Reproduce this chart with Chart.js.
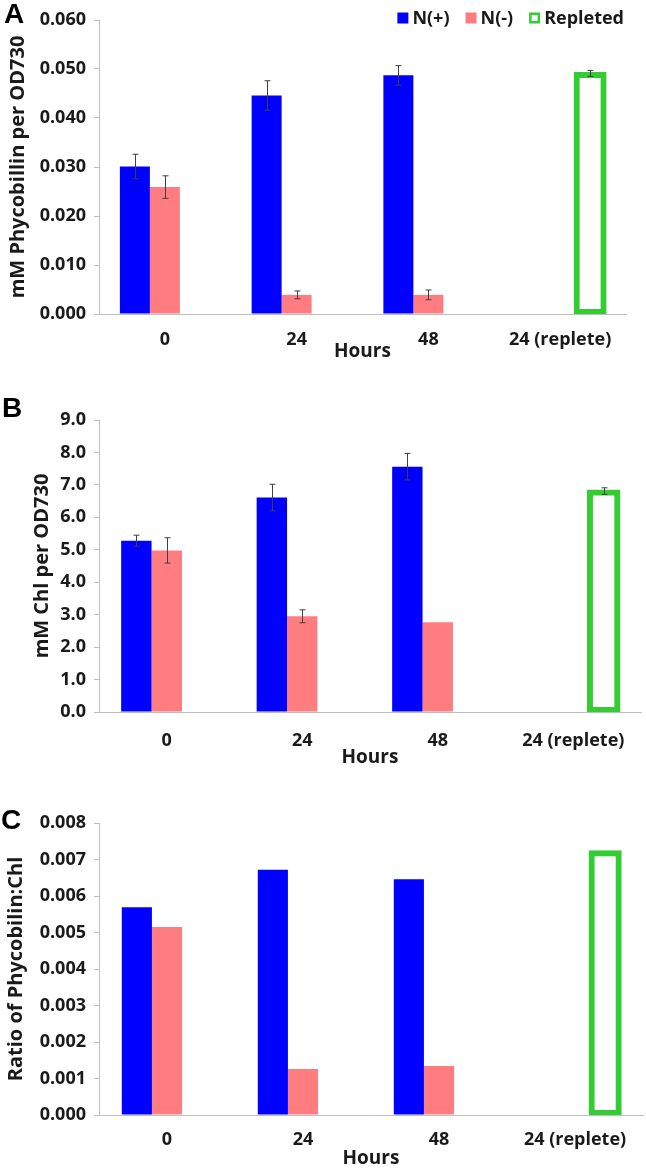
<!DOCTYPE html>
<html>
<head>
<meta charset="utf-8">
<script src="https://cdn.jsdelivr.net/npm/chart.js@4.4.0/dist/chart.umd.min.js"></script>
<style>
  body { margin: 0; background: #fff; }
  #wrap { position: relative; width: 646px; height: 1168px; overflow: hidden; }
  canvas { position: absolute; left: 0; }
  .panel { position: absolute; font: bold 28px "Liberation Sans", Arial, sans-serif; line-height: 1; color: #000; }
</style>
</head>
<body>
<div id="wrap">
  <canvas id="chartA" width="646" height="370" style="top:0"></canvas>
  <canvas id="chartB" width="646" height="400" style="top:370px"></canvas>
  <canvas id="chartC" width="646" height="398" style="top:770px"></canvas>
  <div class="panel" style="left:4px;top:0">A</div>
  <div class="panel" style="left:2px;top:394px">B</div>
  <div class="panel" style="left:1px;top:806px">C</div>
</div>
<script>
const categories = ["0", "24", "48", "24 (replete)"];
const seriesNames = ["N(+)", "N(-)", "Repleted"];

// A: phycobilin
const phycoPlus = [0.0301, 0.0446, 0.0487, null];
const phycoMinus = [0.0259, 0.0039, 0.0039, null];
const phycoRepleted = [null, null, null, 0.0491];
const phycoPlusErr = [0.0025, 0.0030, 0.0020, null];
const phycoMinusErr = [0.0023, 0.0008, 0.0010, null];
const phycoRepletedErr = [null, null, null, 0.0006];

// B: chlorophyll
const chlPlus = [5.28, 6.61, 7.56, null];
const chlMinus = [4.98, 2.95, 2.77, null];
const chlRepleted = [null, null, null, 6.81];
const chlPlusErr = [0.17, 0.41, 0.41, null];
const chlMinusErr = [0.39, 0.20, 0, null];
const chlRepletedErr = [null, null, null, 0.10];

// C: ratio
const ratioPlus = [0.00569, 0.00672, 0.00646, null];
const ratioMinus = [0.00515, 0.00126, 0.00134, null];
const ratioRepleted = [null, null, null, 0.00721];

const BLUE = "#0000ff";
const PINK = "#ff7c80";
const GREEN = "#33cc33";
const AXIS = "#bfbfbf";

Chart.defaults.font.family = '"Open Sans", sans-serif';
Chart.defaults.color = "#1a1a1a";

const errorBars = {
  id: "errorBars",
  afterDatasetsDraw(chart) {
    const ctx = chart.ctx;
    const y = chart.scales.y;
    ctx.save();
    ctx.strokeStyle = "#404040";
    ctx.lineWidth = 1;
    chart.data.datasets.forEach((ds, i) => {
      if (!ds.errors) return;
      const meta = chart.getDatasetMeta(i);
      ds.errors.forEach((e, j) => {
        if (!e || ds.data[j] == null) return;
        const x = Math.round(meta.data[j].x) + 0.5;
        const top = y.getPixelForValue(ds.data[j] + e);
        const bot = y.getPixelForValue(ds.data[j] - e);
        ctx.beginPath();
        ctx.moveTo(x, top); ctx.lineTo(x, bot);
        ctx.moveTo(x - 3, top); ctx.lineTo(x + 3, top);
        ctx.moveTo(x - 3, bot); ctx.lineTo(x + 3, bot);
        ctx.stroke();
      });
    });
    ctx.restore();
  }
};

const topLegend = {
  id: "topLegend",
  afterDraw(chart, args, opts) {
    if (!opts.show) return;
    const ctx = chart.ctx;
    ctx.save();
    ctx.font = 'bold 18px "Open Sans", sans-serif';
    ctx.textBaseline = "middle";
    const box = 11, gapText = 4, gapItem = 16;
    const items = chart.data.datasets.map(ds => ({
      label: ds.label,
      w: ctx.measureText(ds.label).width,
      ds
    }));
    let total = 0;
    items.forEach((it, k) => { total += box + gapText + it.w + (k ? gapItem : 0); });
    let x = opts.right - total;
    const cy = opts.y;
    items.forEach(it => {
      if (it.ds.backgroundColor === "transparent") {
        ctx.strokeStyle = it.ds.borderColor;
        ctx.lineWidth = 2.5;
        ctx.strokeRect(x + 1.25, cy - box / 2 + 1.25, box - 2.5, box - 2.5);
      } else {
        ctx.fillStyle = it.ds.backgroundColor;
        ctx.fillRect(x, cy - box / 2, box, box);
      }
      ctx.fillStyle = "#1a1a1a";
      ctx.fillText(it.label, x + box + gapText, cy + 1);
      x += box + gapText + it.w + gapItem;
    });
    ctx.restore();
  }
};

function makeChart(id, cfg) {
  const datasets = [
    { label: seriesNames[0], data: cfg.plus, errors: cfg.plusErr, backgroundColor: BLUE, borderWidth: 0 },
    { label: seriesNames[1], data: cfg.minus, errors: cfg.minusErr, backgroundColor: PINK, borderWidth: 0 },
    { label: seriesNames[2], data: cfg.repleted, errors: cfg.repletedErr, backgroundColor: "transparent",
      borderColor: GREEN, borderWidth: 3, borderSkipped: false, inflateAmount: 1.5 }
  ];
  return new Chart(document.getElementById(id), {
    type: "bar",
    data: { labels: categories, datasets },
    plugins: [errorBars, topLegend],
    options: {
      responsive: false,
      animation: false,
      events: [],
      categoryPercentage: cfg.catPct,
      barPercentage: 1,
      layout: { padding: { left: 0, right: cfg.padRight, top: cfg.padTop, bottom: 0 } },
      plugins: {
        legend: { display: false },
        tooltip: { enabled: false },
        topLegend: { show: !!cfg.legend, right: 624, y: 18 }
      },
      scales: {
        x: {
          grid: { display: false },
          border: { color: AXIS, width: 1 },
          ticks: { font: { size: 18, weight: "bold" }, padding: cfg.xTickPad, autoSkip: false, maxRotation: 0 },
          title: { display: true, text: "Hours", font: { size: 19, weight: "bold", lineHeight: 1 },
                   padding: { top: 0, bottom: cfg.hoursPad } },
          afterFit(scale) { scale.height = cfg.xHeight; }
        },
        y: {
          min: 0,
          max: cfg.max,
          grid: { display: true, drawOnChartArea: false, drawTicks: true, tickLength: 5, color: AXIS },
          border: { color: AXIS, width: 1 },
          ticks: {
            stepSize: cfg.step,
            padding: 8,
            font: { size: 18, weight: "bold" },
            callback: v => Number(v).toFixed(cfg.decimals)
          },
          title: { display: true, text: cfg.yTitle, font: { size: 20, weight: "bold", lineHeight: 1 },
                   padding: { top: cfg.yTitlePad, bottom: 0 } },
          afterFit(scale) { scale.width = 99; }
        }
      }
    }
  });
}

makeChart("chartA", {
  plus: phycoPlus, minus: phycoMinus, repleted: phycoRepleted,
  plusErr: phycoPlusErr, minusErr: phycoMinusErr, repletedErr: phycoRepletedErr,
  max: 0.06, step: 0.01, decimals: 3, yTitle: "mM Phycobillin per OD730",
  padTop: 20, padRight: 20, xHeight: 56, xTickPad: 7, hoursPad: 8.5, yTitlePad: 8,
  catPct: 0.683, legend: true
});

makeChart("chartB", {
  plus: chlPlus, minus: chlMinus, repleted: chlRepleted,
  plusErr: chlPlusErr, minusErr: chlMinusErr, repletedErr: chlRepletedErr,
  max: 9, step: 1, decimals: 1, yTitle: "mM Chl per OD730",
  padTop: 50, padRight: 5, xHeight: 58, xTickPad: 10, hoursPad: 2.5, yTitlePad: 32,
  catPct: 0.673
});

makeChart("chartC", {
  plus: ratioPlus, minus: ratioMinus, repleted: ratioRepleted,
  max: 0.008, step: 0.001, decimals: 3, yTitle: "Ratio of Phycobilin:Chl",
  padTop: 53, padRight: 3, xHeight: 53, xTickPad: 6, hoursPad: 0, yTitlePad: 6,
  catPct: 0.665
});
</script>
</body>
</html>
